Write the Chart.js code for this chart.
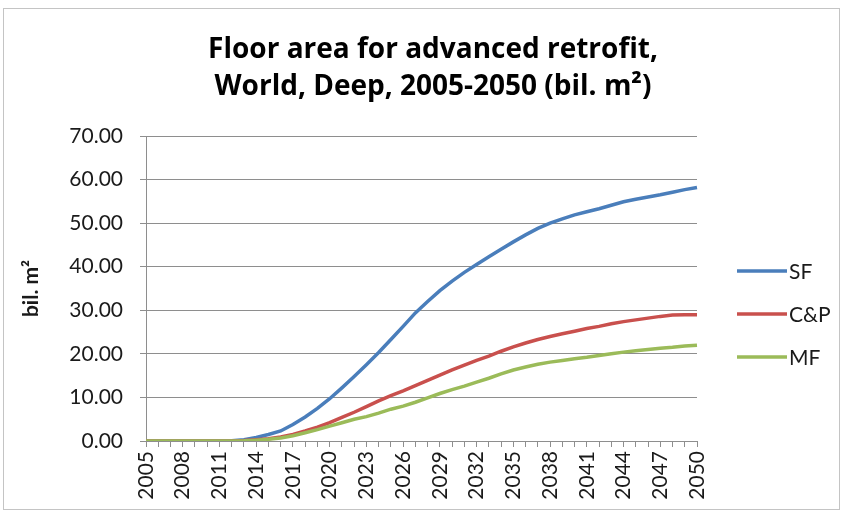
<!DOCTYPE html>
<html>
<head>
<meta charset="utf-8">
<script src="https://cdn.jsdelivr.net/npm/chart.js@4.4.1/dist/chart.umd.min.js"></script>
<style>
  html, body { margin: 0; padding: 0; background: #fff; }
  #wrap { width: 843px; height: 513px; }
</style>
</head>
<body>
<div id="wrap"><canvas id="chart" width="843" height="513"></canvas></div>
<script>
'use strict';

var years = [2005, 2006, 2007, 2008, 2009, 2010, 2011, 2012, 2013, 2014,
  2015, 2016, 2017, 2018, 2019, 2020, 2021, 2022, 2023, 2024,
  2025, 2026, 2027, 2028, 2029, 2030, 2031, 2032, 2033, 2034,
  2035, 2036, 2037, 2038, 2039, 2040, 2041, 2042, 2043, 2044,
  2045, 2046, 2047, 2048, 2049, 2050];

var seriesNames = ['SF', 'C&P', 'MF'];

// bil. m2 per year
var sfValues = [0, 0, 0, 0, 0, 0, 0, 0.05, 0.3, 0.8,
  1.5, 2.3, 3.8, 5.5, 7.5, 9.7, 12.2, 14.8, 17.5, 20.3,
  23.3, 26.3, 29.4, 32.0, 34.5, 36.7, 38.7, 40.5, 42.3, 44.0,
  45.7, 47.3, 48.8, 50.0, 51.0, 51.9, 52.6, 53.3, 54.1, 54.9,
  55.5, 56.0, 56.5, 57.1, 57.7, 58.2];

var cpValues = [0, 0, 0, 0, 0, 0, 0, 0, 0.1, 0.3,
  0.5, 0.9, 1.5, 2.3, 3.2, 4.2, 5.4, 6.6, 7.9, 9.2,
  10.4, 11.5, 12.7, 13.9, 15.1, 16.3, 17.4, 18.5, 19.5, 20.6,
  21.6, 22.5, 23.3, 24.0, 24.6, 25.2, 25.8, 26.3, 26.9, 27.4,
  27.8, 28.2, 28.6, 28.9, 29.0, 29.0];

var mfValues = [0, 0, 0, 0, 0, 0, 0, 0, 0.05, 0.2,
  0.4, 0.7, 1.2, 1.9, 2.6, 3.4, 4.2, 5.0, 5.6, 6.4,
  7.3, 8.0, 8.9, 9.9, 10.9, 11.8, 12.6, 13.5, 14.4, 15.4,
  16.3, 17.0, 17.6, 18.1, 18.5, 18.9, 19.2, 19.6, 20.0, 20.4,
  20.7, 21.0, 21.3, 21.5, 21.8, 22.0];

var yTicks = [0, 10, 20, 30, 40, 50, 60, 70];

var titleLines = ['Floor area for advanced retrofit,', 'World, Deep, 2005-2050 (bil. m\u00b2)'];

var colors = ['#4a7ebb', '#c9504d', '#9bbb59'];
var fontFamily = 'Lato, "Open Sans", sans-serif';
var titleFamily = '"Open Sans", Lato, sans-serif';
var textColor = '#1a1a1a';
var gridColor = '#8e8e8e';

var seriesValues = [sfValues, cpValues, mfValues];
var datasets = seriesNames.map(function (name, i) {
  return {
    label: name,
    data: seriesValues[i],
    borderColor: colors[i],
    backgroundColor: colors[i],
    borderWidth: 3.5,
    pointRadius: 0,
    tension: 0,
    fill: false,
    order: seriesNames.length - i
  };
});

// white background, thin frame, two-line title
var framePlugin = {
  id: 'frame',
  beforeDraw: function (chart) {
    var ctx = chart.ctx;
    ctx.save();
    ctx.fillStyle = '#fff';
    ctx.fillRect(0, 0, chart.width, chart.height);
    ctx.strokeStyle = '#c4c4c4';
    ctx.lineWidth = 1;
    ctx.strokeRect(3.5, 8.5, chart.width - 7, chart.height - 12);

    ctx.fillStyle = '#000';
    ctx.font = 'bold 28px ' + titleFamily;
    ctx.textAlign = 'center';
    ctx.textBaseline = 'alphabetic';
    titleLines.forEach(function (line, i) {
      ctx.fillText(line, 433, 58 + i * 37);
    });
    ctx.restore();
  }
};

// legend at the right: short line sample + name
var sideLegend = {
  id: 'sideLegend',
  afterDraw: function (chart) {
    var ctx = chart.ctx;
    var x0 = chart.chartArea.right + 40;
    var yTop = 271;
    ctx.save();
    ctx.font = '21px ' + fontFamily;
    ctx.textBaseline = 'middle';
    ctx.textAlign = 'left';
    chart.data.datasets.forEach(function (ds, i) {
      var y = yTop + i * 43;
      ctx.strokeStyle = ds.borderColor;
      ctx.lineWidth = 3.5;
      ctx.beginPath();
      ctx.moveTo(x0, y);
      ctx.lineTo(x0 + 50, y);
      ctx.stroke();
      ctx.fillStyle = textColor;
      ctx.fillText(ds.label, x0 + 52, y + 1);
    });
    ctx.restore();
  }
};

var chart = new Chart(document.getElementById('chart'), {
  type: 'line',
  data: {
    labels: years,
    datasets: datasets
  },
  options: {
    animation: false,
    responsive: false,
    maintainAspectRatio: false,
    layout: {
      padding: { left: 0, right: 146, top: 136, bottom: 0 }
    },
    plugins: {
      legend: { display: false },
      tooltip: { enabled: false },
      title: { display: false }
    },
    scales: {
      x: {
        type: 'category',
        offset: false,
        grid: {
          drawOnChartArea: false,
          drawTicks: true,
          tickLength: 6,
          color: gridColor
        },
        border: { color: gridColor, width: 1 },
        ticks: {
          autoSkip: false,
          maxRotation: 90,
          minRotation: 90,
          padding: 4,
          color: textColor,
          font: { family: fontFamily, size: 21 },
          callback: function (value, index) {
            return index % 3 === 0 ? years[index] : '';
          }
        },
        afterFit: function (scale) { scale.height = 72; }
      },
      y: {
        min: 0,
        max: 70,
        afterBuildTicks: function (scale) {
          scale.ticks = yTicks.map(function (v) { return { value: v }; });
        },
        grid: {
          color: gridColor,
          lineWidth: 1,
          tickLength: 6,
          drawTicks: true
        },
        border: { color: gridColor, width: 1 },
        ticks: {
          padding: 17,
          color: textColor,
          font: { family: fontFamily, size: 21 },
          callback: function (value) { return value.toFixed(2); }
        },
        title: {
          display: true,
          text: 'bil. m\u00b2',
          color: textColor,
          font: { family: fontFamily, size: 21, weight: 'bold' },
          padding: { top: 19, bottom: 0 }
        },
        afterFit: function (scale) { scale.width = 146; }
      }
    }
  },
  plugins: [framePlugin, sideLegend]
});
</script>
</body>
</html>
